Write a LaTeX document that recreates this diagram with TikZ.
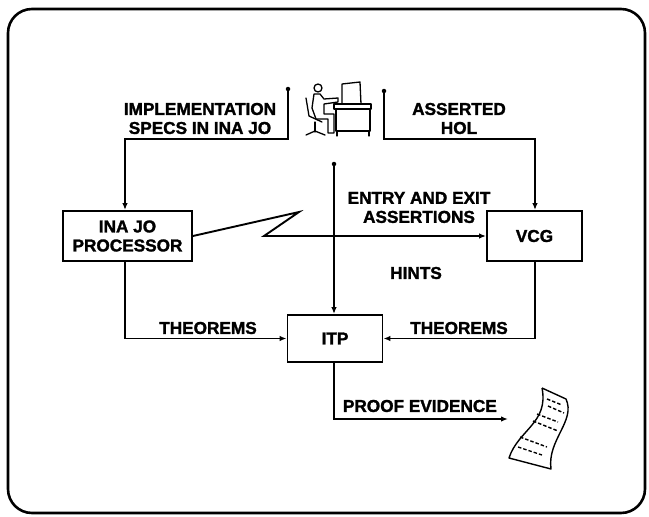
\documentclass[tikz,border=0pt]{standalone}
\usepackage{fontspec}
\setmainfont{Liberation Sans}[BoldFeatures={FakeBold=1.6}]
\usetikzlibrary{arrows.meta}
\begin{document}
\begin{tikzpicture}[x=1pt,y=-1pt,
  line width=1.9pt,
  lbl/.style={font=\fontsize{17.2}{19}\selectfont\bfseries, inner sep=0pt, align=center},
  procbox/.style={draw, rectangle, inner sep=0pt, font=\fontsize{17.2}{19}\selectfont\bfseries, align=center},
  flow/.style={-{Latex[length=7pt,width=5.5pt]}},
  enddot/.style={circle, fill=black, inner sep=0pt, minimum size=4.5pt},
]
\useasboundingbox (0,0) rectangle (649,517);

% outer frame
\draw[line width=2.6pt, rounded corners=24pt] (8,9) rectangle (645,513);

% processing boxes
\node[procbox, minimum width=129pt, minimum height=50pt] (inajo) at (127.5,236) {INA JO\\PROCESSOR};
\node[procbox, minimum width=95pt, minimum height=50pt] (vcg) at (534.5,236) {VCG};
\node[procbox, minimum width=95pt, minimum height=47pt] (itp) at (335,338.5) {ITP};

% free ends and bends
\node[enddot] (specsrc) at (288,89) {};
\node[enddot] (holsrc) at (384,91) {};
\node[enddot] (hintsrc) at (334,164) {};
\coordinate (specturn) at (125,139);
\coordinate (holturn) at (535,139);
\coordinate (zigtop) at (299,212);
\coordinate (zigbot) at (264,236);
\coordinate (proofend) at (508,419);

% connectors
\draw[flow] (specsrc.center) |- (specturn) -- (specturn |- inajo.north);
\draw[flow] (holsrc.center) |- (holturn) -- (holturn |- vcg.north);
\draw[flow] (hintsrc.center) -- (hintsrc |- itp.north);
\draw[flow] (inajo.east) -- (zigtop) -- (zigbot) -- (vcg.west);
\draw[flow] (specturn |- inajo.south) |- (itp.west);
\draw[flow] (holturn |- vcg.south) |- (itp.east);
\draw[flow] (hintsrc |- itp.south) |- (proofend);

% labels
\node[lbl] (lspec) at (200,118.5) {IMPLEMENTATION\\SPECS IN INA JO};
\node[lbl] (lhol) at (459,118.5) {ASSERTED\\HOL};
\node[lbl] (lentry) at (419,207.5) {ENTRY AND EXIT\\ASSERTIONS};
\node[lbl] (lhints) at (416,273) {HINTS};
\node[lbl] (lthl) at (208,328) {THEOREMS};
\node[lbl] (lthr) at (459,328) {THEOREMS};
\node[lbl, anchor=west] (lproof) at (342,406) {PROOF EVIDENCE};

% operator at the terminal
\begin{scope}[line width=1.3pt, line join=round, line cap=round]
  % monitor
  \draw (342,84) -- (360,82) -- (361,104) -- (342,104) -- cycle;
  % desk
  \draw (334,104) -- (371,104) -- (371,109) -- (334,109) -- cycle;
  \draw (336,109) -- (336,131) -- (370,131) -- (370,109);
  \draw (337,131) -- (337,136) (369,131) -- (369,136);
  % person
  \draw (318,88) circle (4pt);
  \draw (314,94) -- (320,94) -- (324,99) -- (338,98) -- (338,102) -- (324,104)
        -- (324,114) -- (334,114) -- (334,133) -- (328,133) -- (328,119) -- (316,119)
        -- (312,108) -- cycle;
  % chair
  \draw (306,98) -- (309,116) -- (322,122);
  \draw (315,122) -- (315,132);
  \draw (306,135) -- (315,131) -- (325,135);
\end{scope}

% printout of proof evidence
\begin{scope}[line width=1.4pt, line join=round]
  \draw (542,388) -- (566,399)
        .. controls (576,421) and (547,440) .. (551,469)
        -- (509,458)
        .. controls (518,430) and (549,423) .. (542,388);
  \draw[dash pattern=on 3.5pt off 2pt] (547,399) -- (562,405);
  \draw[dash pattern=on 3.5pt off 2pt] (548,406) -- (564,413);
  \draw[dash pattern=on 3.5pt off 2pt] (537,414) -- (558,422);
  \draw[dash pattern=on 3.5pt off 2pt] (533,421) -- (558,431);
  \draw[dash pattern=on 3.5pt off 2pt] (520,437) -- (547,447);
  \draw[dash pattern=on 3.5pt off 2pt] (518,447) -- (542,455);
\end{scope}
\end{tikzpicture}
\end{document}
